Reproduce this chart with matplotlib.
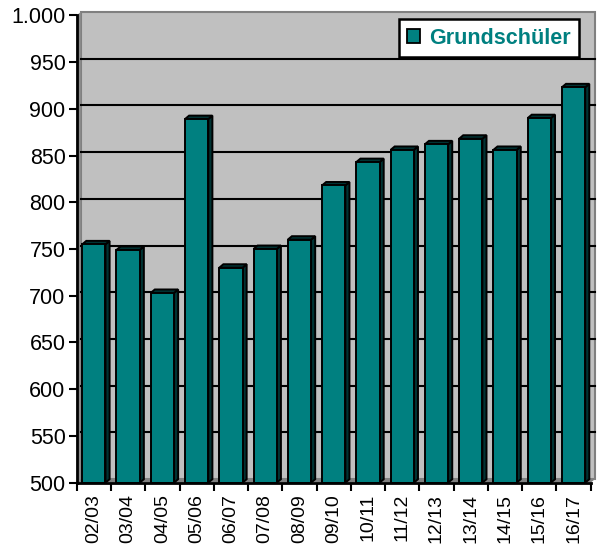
import numpy as np
import matplotlib
matplotlib.use('Agg')
import matplotlib.pyplot as plt
from matplotlib.patches import Polygon, Rectangle, Patch

plt.rcParams['font.family'] = ['Liberation Sans', 'DejaVu Sans']

# school years and number of primary school pupils
years = ['02/03', '03/04', '04/05', '05/06', '06/07', '07/08', '08/09', '09/10',
         '10/11', '11/12', '12/13', '13/14', '14/15', '15/16', '16/17']
pupils = [755, 749, 703, 889, 730, 750, 760, 818, 843, 856, 862, 868, 856, 890, 923]
y_ticks = [500, 550, 600, 650, 700, 750, 800, 850, 900, 950, 1000]
y_labels = ['500', '550', '600', '650', '700', '750', '800', '850', '900', '950', '1.000']

teal = '#008080'
dark_teal = '#003333'
DX, DY = 0.12, 3.7   # fake 3d depth in data units
W = 0.68

fig = plt.figure(figsize=(5.97, 5.49), dpi=100)
ax = fig.add_axes([0.1285, 0.1208, 0.8609, 0.8513])
ax.set_facecolor('none')
ax.set_xlim(0, len(years))
ax.set_ylim(500, 1000)

# back wall, left wall and floor
ax.add_patch(Rectangle((DX, 500 + DY), len(years), 500, facecolor='#C0C0C0',
                       edgecolor='#808080', lw=1.5, zorder=0, clip_on=False))
ax.add_patch(Polygon([(0, 500), (DX, 500 + DY), (DX, 1000 + DY), (0, 1000)],
                     closed=True, facecolor='#8c8c8c', edgecolor='none', zorder=0.5, clip_on=False))
ax.add_patch(Polygon([(0, 500), (len(years), 500), (len(years) + DX, 500 + DY), (DX, 500 + DY)],
                     closed=True, facecolor='#808080', edgecolor='none', zorder=0.5, clip_on=False))
for v in y_ticks[1:-1]:
    ax.plot([DX, len(years) + DX], [v + DY, v + DY], color='black', lw=1.5, zorder=1,
            clip_on=False)

# bars
x = np.arange(len(years))
ax.bar(x + 0.5, np.array(pupils) - 500, bottom=500, width=W, color=teal,
       edgecolor='black', lw=1.4, zorder=4)
for i, v in enumerate(pupils):
    l, r = i + 0.5 - W / 2, i + 0.5 + W / 2
    ax.add_patch(Polygon([(r, 500), (r + DX, 500 + DY), (r + DX, v + DY), (r, v)],
                         closed=True, facecolor=dark_teal, edgecolor='black', lw=1.4, zorder=3))
    ax.add_patch(Polygon([(l, v), (l + DX, v + DY), (r + DX, v + DY), (r, v)],
                         closed=True, facecolor=dark_teal, edgecolor='black', lw=1.4, zorder=3))

# axes
for s in ['top', 'right']:
    ax.spines[s].set_visible(False)
for s in ['left', 'bottom']:
    ax.spines[s].set_linewidth(2)
    ax.spines[s].set_zorder(5)
ax.set_yticks(y_ticks)
ax.set_yticklabels(y_labels, fontsize=15.5)
ax.set_xticks(np.arange(len(years) + 1))
ax.set_xticklabels([])
ax.set_xticks(x + 0.5, minor=True)
ax.set_xticklabels(years, minor=True, rotation=90, fontsize=14)
ax.tick_params(axis='x', which='major', length=6, width=1.5, direction='out')
ax.tick_params(axis='x', which='minor', length=0, pad=8)
ax.tick_params(axis='y', length=6, width=1.5, direction='out', pad=2)

leg = ax.legend(handles=[Patch(facecolor=teal, edgecolor='black', lw=1.3, label='Grundschüler')],
                loc='upper right', bbox_to_anchor=(579 / 597, 1 - 19 / 549),
                bbox_transform=fig.transFigure, borderaxespad=0, fancybox=False, framealpha=1,
                handlelength=0.6, handleheight=0.6, handletextpad=0.4, borderpad=0.4,
                prop={'size': 15.5, 'weight': 'bold'})
leg.get_frame().set_edgecolor('black')
leg.get_frame().set_linewidth(1.8)
leg.get_texts()[0].set_color(teal)
leg.set_zorder(10)

fig.savefig('out.png', dpi=100)
